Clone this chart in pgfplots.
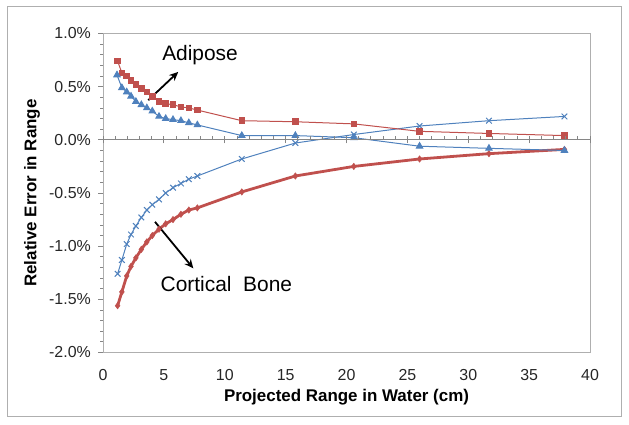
\documentclass[border=0pt]{standalone}
\usepackage{pgfplots}
\pgfplotsset{compat=1.18}
\usetikzlibrary{arrows.meta}
\usepackage{fontspec}
\setmainfont{Liberation Sans}
\definecolor{exred}{RGB}{192,80,77}
\definecolor{exblue}{RGB}{79,129,189}
\definecolor{axgray}{RGB}{134,134,134}
\definecolor{frgray}{RGB}{175,175,175}
\begin{document}
\begin{tikzpicture}[x=1bp,y=1bp]
\useasboundingbox (0,0) rectangle (629,424);
\draw[frgray, line width=1.3bp] (7.3,7.5) rectangle (621.3,417.3);
\begin{axis}[
  scale only axis, width=487bp, height=319bp,
  at={(103bp,71.5bp)}, anchor=south west,
  xmin=0, xmax=40, ymin=-2, ymax=1,
  xtick distance=5, ytick distance=0.5,
  minor y tick num=4,
  tick align=outside, ytick pos=left, xtick pos=bottom,
  xtick style={draw=none},
  major tick length=5bp, minor tick length=3bp,
  every tick/.append style={axgray, line width=0.8bp},
  axis line style={frgray, line width=1bp},
  /pgf/number format/assume math mode=true,
  ticklabel style={font=\fontsize{16}{19}\selectfont, text=black!85},
  yticklabel={\pgfmathprintnumber[fixed,fixed zerofill,precision=1]{\tick}\%},
  xticklabel style={anchor=north, inner sep=0pt, yshift=-11.5bp},
  yticklabel style={anchor=east, inner sep=0pt, xshift=-7bp},
  xlabel={\textbf{Projected Range in Water (cm)}},
  ylabel={\textbf{Relative Error in Range}},
  label style={font=\fontsize{17}{20}\selectfont},
  x label style={at={(axis description cs:0.5,0)}, anchor=center, yshift=-44.5bp},
  y label style={at={(axis description cs:0,0.5)}, anchor=center, rotate=0, yshift=71bp},
  clip=false,
]
% Cortical bone (red, thick)
\addplot[exred, line width=2.8bp, mark=diamond*, mark size=3.2bp, mark options={line width=0.5bp}] coordinates {
 (1.2,-1.56) (1.55,-1.43) (1.95,-1.28) (2.3,-1.19) (2.7,-1.11) (3.15,-1.03) (3.6,-0.96)
 (4.05,-0.90) (4.6,-0.84) (5.15,-0.79) (5.75,-0.75) (6.4,-0.70) (7.05,-0.66) (7.75,-0.64)
 (11.4,-0.49) (15.8,-0.34) (20.6,-0.25) (26.0,-0.18) (31.7,-0.13) (37.9,-0.09)};
% Cortical bone (blue crosses)
\addplot[exblue, line width=1bp, mark=x, mark size=4bp, mark options={line width=1bp}] coordinates {
 (1.2,-1.26) (1.55,-1.13) (1.95,-0.98) (2.3,-0.89) (2.7,-0.81) (3.15,-0.73) (3.6,-0.66)
 (4.05,-0.61) (4.6,-0.56) (5.15,-0.50) (5.75,-0.45) (6.4,-0.41) (7.05,-0.37) (7.75,-0.34)
 (11.4,-0.18) (15.8,-0.03) (20.6,0.05) (26.0,0.13) (31.7,0.18) (37.9,0.22)};
% Adipose (red squares)
\addplot[exred, line width=1bp, mark=square*, mark size=2.8bp] coordinates {
 (1.2,0.74) (1.55,0.63) (1.95,0.60) (2.3,0.56) (2.7,0.52) (3.15,0.48) (3.6,0.45)
 (4.05,0.41) (4.6,0.36) (5.15,0.34) (5.75,0.33) (6.4,0.31) (7.05,0.30) (7.75,0.28)
 (11.4,0.18) (15.8,0.17) (20.6,0.15) (26.0,0.08) (31.7,0.06) (37.9,0.04)};
% Adipose (blue triangles)
\addplot[exblue, line width=1bp, mark=triangle*, mark size=3.6bp] coordinates {
 (1.15,0.61) (1.55,0.49) (1.95,0.45) (2.3,0.41) (2.7,0.36) (3.15,0.33) (3.6,0.30)
 (4.05,0.27) (4.6,0.22) (5.15,0.20) (5.75,0.19) (6.4,0.18) (7.05,0.16) (7.75,0.14)
 (11.4,0.04) (15.8,0.04) (20.6,0.02) (26.0,-0.06) (31.7,-0.08) (37.9,-0.10)};
\draw[black, line width=1.8bp, -{Stealth[length=9bp,width=8bp]}] (axis cs:3.72,0.373) -- (axis cs:6.18,0.639);
\draw[black, line width=1.8bp, -{Stealth[length=9bp,width=8bp]}] (axis cs:4.27,-0.771) -- (axis cs:7.42,-1.209);
\node[anchor=base west, inner sep=0pt, font=\fontsize{21}{24}\selectfont] at (axis cs:4.85,0.744) {Adipose};
\node[anchor=base west, inner sep=0pt, font=\fontsize{21}{24}\selectfont] at (axis cs:4.72,-1.422) {Cortical\ \ Bone};
\end{axis}
\begin{axis}[
  scale only axis, width=487bp, height=319bp,
  at={(103bp,71.5bp)}, anchor=south west,
  xmin=0, xmax=40, ymin=-2, ymax=1,
  axis x line=middle, axis y line=none,
  xtick distance=5, minor x tick num=4,
  xticklabels={},
  tick align=inside,
  major tick length=7bp, minor tick length=4bp,
  every major tick/.append style={yshift=-3.5bp},
  every tick/.append style={axgray, line width=0.8bp},
  axis line style={axgray, line width=1bp, -},
]
\end{axis}
\end{tikzpicture}
\end{document}
